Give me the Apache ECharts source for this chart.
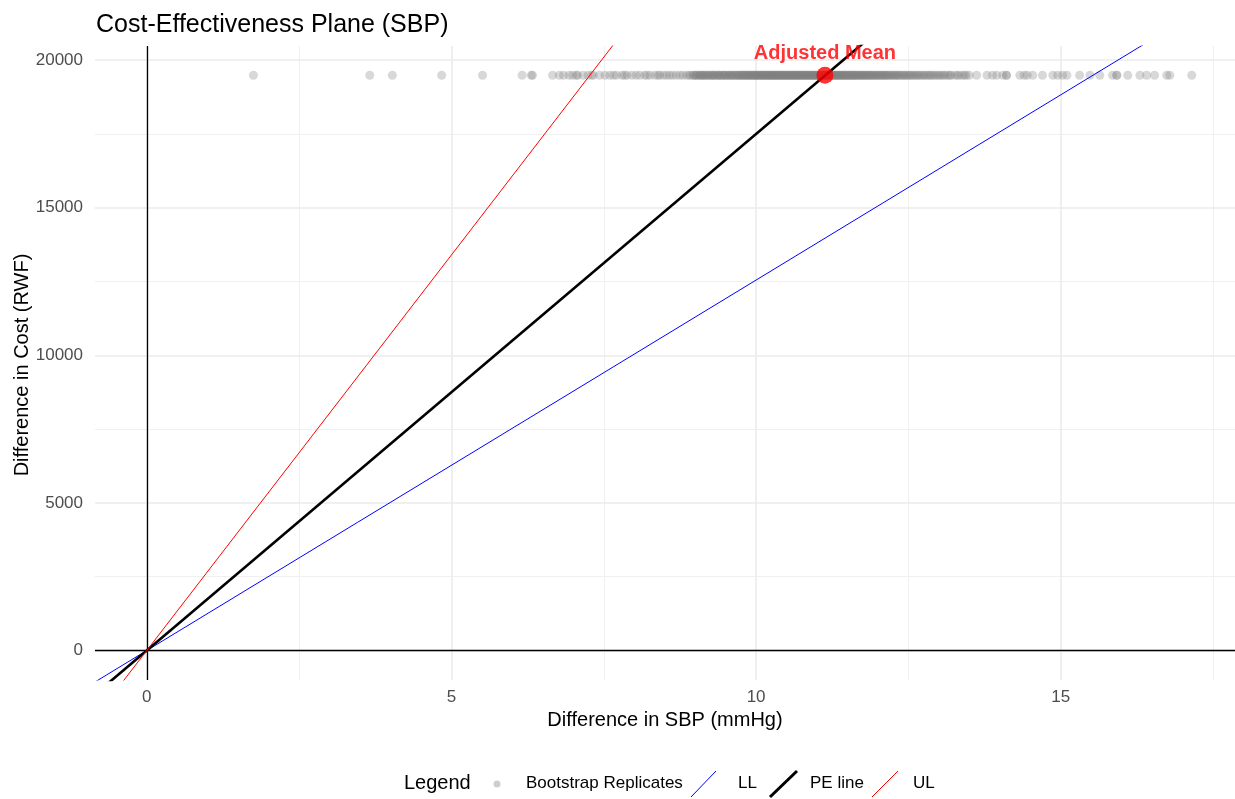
<!DOCTYPE html>
<html>
<head>
<meta charset="utf-8">
<title>Cost-Effectiveness Plane (SBP)</title>
<script src="https://cdn.jsdelivr.net/npm/echarts@6/dist/echarts.min.js"></script>
<style>
  html, body { margin: 0; padding: 0; background: #ffffff; }
  #chart { width: 1235px; height: 799px; }
</style>
</head>
<body>
<div id="chart"></div>
<script>
// Bootstrap replicates: difference in SBP (mmHg); every replicate has the same cost difference
const replicateEffect = [
  1.75, 3.66, 4.03, 4.84, 5.51, 6.16, 6.31, 6.33, 6.66, 6.77, 6.84, 6.93, 6.99, 7.05, 7.07, 7.16, 7.24, 7.30, 7.33, 7.43,
  7.52, 7.60, 7.66, 7.71, 7.80, 7.84, 7.88, 7.96, 8.03, 8.09, 8.17, 8.21, 8.26, 8.34, 8.39, 8.42, 8.48, 8.53, 8.58, 8.63,
  8.69, 8.75, 8.80, 8.86, 8.90, 8.93,
  8.97, 8.98, 9.01, 9.02, 9.04, 9.07, 9.08, 9.10, 9.11, 9.14, 9.15, 9.16, 9.19, 9.21, 9.22, 9.24, 9.27, 9.28, 9.29, 9.32,
  9.33, 9.35, 9.38, 9.39, 9.40, 9.42, 9.45, 9.46, 9.48, 9.49, 9.51, 9.54, 9.55, 9.56, 9.59, 9.60, 9.62, 9.63, 9.66, 9.67,
  9.69, 9.71, 9.72, 9.74, 9.75, 9.77, 9.78, 9.80, 9.81, 9.83, 9.84, 9.86, 9.87, 9.88, 9.90, 9.91, 9.93, 9.94, 9.95, 9.97,
  9.98, 9.99, 10.01, 10.02, 10.03, 10.05, 10.06, 10.07, 10.09, 10.10, 10.11, 10.12, 10.14, 10.15, 10.16, 10.18, 10.19, 10.20, 10.21, 10.23,
  10.24, 10.25, 10.26, 10.28, 10.29, 10.30, 10.31, 10.33, 10.34, 10.35, 10.36, 10.38, 10.39, 10.40, 10.41, 10.43, 10.44, 10.45, 10.46, 10.48,
  10.49, 10.50, 10.52, 10.53, 10.54, 10.55, 10.57, 10.58, 10.59, 10.60, 10.62, 10.63, 10.64, 10.66, 10.67, 10.68, 10.69, 10.71, 10.72, 10.73,
  10.74, 10.76, 10.77, 10.78, 10.80, 10.81, 10.82, 10.83, 10.85, 10.86, 10.87, 10.89, 10.90, 10.91, 10.92, 10.94, 10.95, 10.96, 10.98, 10.99,
  11.00, 11.01, 11.03, 11.04, 11.05, 11.07, 11.08, 11.09, 11.11, 11.12, 11.13, 11.14, 11.16, 11.17, 11.18, 11.20, 11.21, 11.22, 11.24, 11.25,
  11.26, 11.28, 11.29, 11.30, 11.32, 11.33, 11.34, 11.36, 11.37, 11.38, 11.40, 11.41, 11.42, 11.44, 11.45, 11.46, 11.48, 11.49, 11.51, 11.52,
  11.53, 11.55, 11.56, 11.58, 11.59, 11.60, 11.62, 11.63, 11.65, 11.66, 11.68, 11.69, 11.71, 11.72, 11.74, 11.75, 11.77, 11.78, 11.80, 11.81,
  11.83, 11.85, 11.86, 11.88, 11.89, 11.91, 11.93, 11.94, 11.96, 11.98, 11.99, 12.01, 12.03, 12.05, 12.06, 12.08, 12.10, 12.12, 12.13, 12.15,
  12.17, 12.19, 12.21, 12.23, 12.25, 12.27, 12.29, 12.31, 12.33, 12.35, 12.37, 12.40, 12.42, 12.44, 12.46, 12.49, 12.51, 12.53, 12.56, 12.58,
  12.61, 12.63, 12.66, 12.68, 12.71, 12.74, 12.76, 12.79, 12.82, 12.85, 12.87, 12.90, 12.93, 12.96, 12.99, 13.02, 13.05, 13.08, 13.11,
  13.15, 13.18, 13.20, 13.26, 13.30, 13.33, 13.38, 13.42, 13.45, 13.50, 13.62, 13.79, 13.88, 13.95, 14.05, 14.11, 14.11, 14.33, 14.40, 14.45,
  14.54, 14.70, 14.87, 14.95, 15.03, 15.10, 15.31, 15.48, 15.64, 15.85, 15.92, 15.92, 16.10, 16.30, 16.41, 16.54, 16.74, 16.79, 17.15
];
const replicateCost = 19490;

// Point estimate (adjusted mean)
const meanEffect = 11.13;
const meanCost = 19490;

// Threshold lines through the origin: cost per mmHg
const lineNames = ['LL', 'PE line', 'UL'];
const lineSlopes = [1255, 1750, 2680];
const lineColors = ['#0000ff', '#000000', '#ff0000'];
const lineWidths = [1, 2.6, 1];

// Axis ticks and grid
const xTicks = [0, 5, 10, 15];
const yTicks = [0, 5000, 10000, 15000, 20000];
const xMinor = [2.5, 7.5, 12.5, 17.5];
const yMinor = [2500, 7500, 12500, 17500];
const xRange = [-0.85, 17.86];
const yRange = [-1000, 20480];

const chart = echarts.init(document.getElementById('chart'), null, { renderer: 'canvas' });

const FONT = '"Liberation Sans", Arial, sans-serif';

const gridMarks = []
  .concat(xMinor.map(v => ({ xAxis: v, lineStyle: { color: '#f0f0f0', width: 1, type: 'solid' } })))
  .concat(yMinor.map(v => ({ yAxis: v, lineStyle: { color: '#f0f0f0', width: 1, type: 'solid' } })))
  .concat(xTicks.map(v => ({ xAxis: v, lineStyle: { color: '#ebebeb', width: 1.6, type: 'solid' } })))
  .concat(yTicks.map(v => ({ yAxis: v, lineStyle: { color: '#ebebeb', width: 1.6, type: 'solid' } })));

const series = [
  {
    name: 'grid',
    type: 'line',
    data: [],
    silent: true,
    z: 0,
    markLine: {
      z: 0,
      silent: true,
      symbol: ['none', 'none'],
      label: { show: false },
      animation: false,
      data: gridMarks
    }
  },
  {
    name: 'zero',
    type: 'line',
    data: [],
    silent: true,
    z: 1,
    markLine: {
      z: 1,
      silent: true,
      symbol: ['none', 'none'],
      label: { show: false },
      animation: false,
      data: [
        { xAxis: 0, lineStyle: { color: '#000000', width: 1.3, type: 'solid' } },
        { yAxis: 0, lineStyle: { color: '#000000', width: 1.3, type: 'solid' } }
      ]
    }
  },
  {
    name: 'Bootstrap Replicates',
    type: 'scatter',
    z: 2,
    symbol: 'circle',
    symbolSize: 9,
    itemStyle: { color: 'rgba(127,127,127,0.38)' },
    data: replicateEffect.map(x => [x, replicateCost])
  }
];

lineNames.forEach((name, i) => {
  series.push({
    name: name,
    type: 'line',
    z: 3,
    clip: true,
    symbol: 'none',
    lineStyle: { color: lineColors[i], width: lineWidths[i] },
    data: [
      [xRange[0], lineSlopes[i] * xRange[0]],
      [xRange[1], lineSlopes[i] * xRange[1]]
    ]
  });
});

series.push({
  name: 'Adjusted Mean',
  type: 'scatter',
  z: 5,
  symbol: 'circle',
  symbolSize: 17,
  itemStyle: { color: '#ff0000' },
  label: {
    show: true,
    position: 'top',
    distance: 3,
    formatter: 'Adjusted Mean',
    color: '#ff0000',
    fontFamily: FONT,
    fontWeight: 'bold',
    fontSize: 20
  },
  data: [[meanEffect, meanCost]]
});

// Legend drawn as graphic elements along the bottom
const legendY = 784;
const legendItems = [
  { type: 'text', left: 404, top: legendY - 11, style: { text: 'Legend', font: '20px ' + FONT, fill: '#000000' } },
  { type: 'circle', shape: { cx: 497, cy: legendY, r: 3.5 }, style: { fill: 'rgba(127,127,127,0.38)' } },
  { type: 'text', left: 526, top: legendY - 9, style: { text: 'Bootstrap Replicates', font: '17px ' + FONT, fill: '#000000' } },
  { type: 'line', shape: { x1: 691, y1: legendY + 13, x2: 716, y2: legendY - 13 }, style: { stroke: lineColors[0], lineWidth: lineWidths[0] } },
  { type: 'text', left: 738, top: legendY - 9, style: { text: 'LL', font: '17px ' + FONT, fill: '#000000' } },
  { type: 'line', shape: { x1: 770, y1: legendY + 13, x2: 797, y2: legendY - 13 }, style: { stroke: lineColors[1], lineWidth: 3 } },
  { type: 'text', left: 810, top: legendY - 9, style: { text: 'PE line', font: '17px ' + FONT, fill: '#000000' } },
  { type: 'line', shape: { x1: 872, y1: legendY + 13, x2: 898, y2: legendY - 13 }, style: { stroke: lineColors[2], lineWidth: lineWidths[2] } },
  { type: 'text', left: 913, top: legendY - 9, style: { text: 'UL', font: '17px ' + FONT, fill: '#000000' } }
];

const option = {
  animation: false,
  backgroundColor: '#ffffff',
  title: {
    text: 'Cost-Effectiveness Plane (SBP)',
    left: 91,
    top: 8,
    textStyle: { fontFamily: FONT, fontSize: 25, fontWeight: 'normal', color: '#000000' }
  },
  grid: { left: 95, top: 46, width: 1140, height: 634, containLabel: false },
  xAxis: {
    type: 'value',
    min: xRange[0],
    max: xRange[1],
    axisLine: { show: false },
    axisTick: { show: false },
    splitLine: { show: false },
    axisLabel: {
      customValues: xTicks,
      formatter: v => String(v),
      color: '#4d4d4d',
      fontFamily: FONT,
      fontSize: 17,
      margin: 9
    }
  },
  yAxis: {
    type: 'value',
    min: yRange[0],
    max: yRange[1],
    axisLine: { show: false },
    axisTick: { show: false },
    splitLine: { show: false },
    axisLabel: {
      customValues: yTicks,
      formatter: v => String(v),
      color: '#4d4d4d',
      fontFamily: FONT,
      fontSize: 17,
      margin: 12
    }
  },
  graphic: [
    {
      type: 'text',
      x: 665,
      y: 720,
      style: { text: 'Difference in SBP (mmHg)', font: '20px ' + FONT, fill: '#000000', align: 'center', verticalAlign: 'middle' }
    },
    {
      type: 'text',
      rotation: Math.PI / 2,
      x: 22,
      y: 365,
      style: { text: 'Difference in Cost (RWF)', font: '20px ' + FONT, fill: '#000000', align: 'center', verticalAlign: 'middle' }
    }
  ].concat(legendItems),
  series: series
};

chart.setOption(option);
</script>
</body>
</html>
